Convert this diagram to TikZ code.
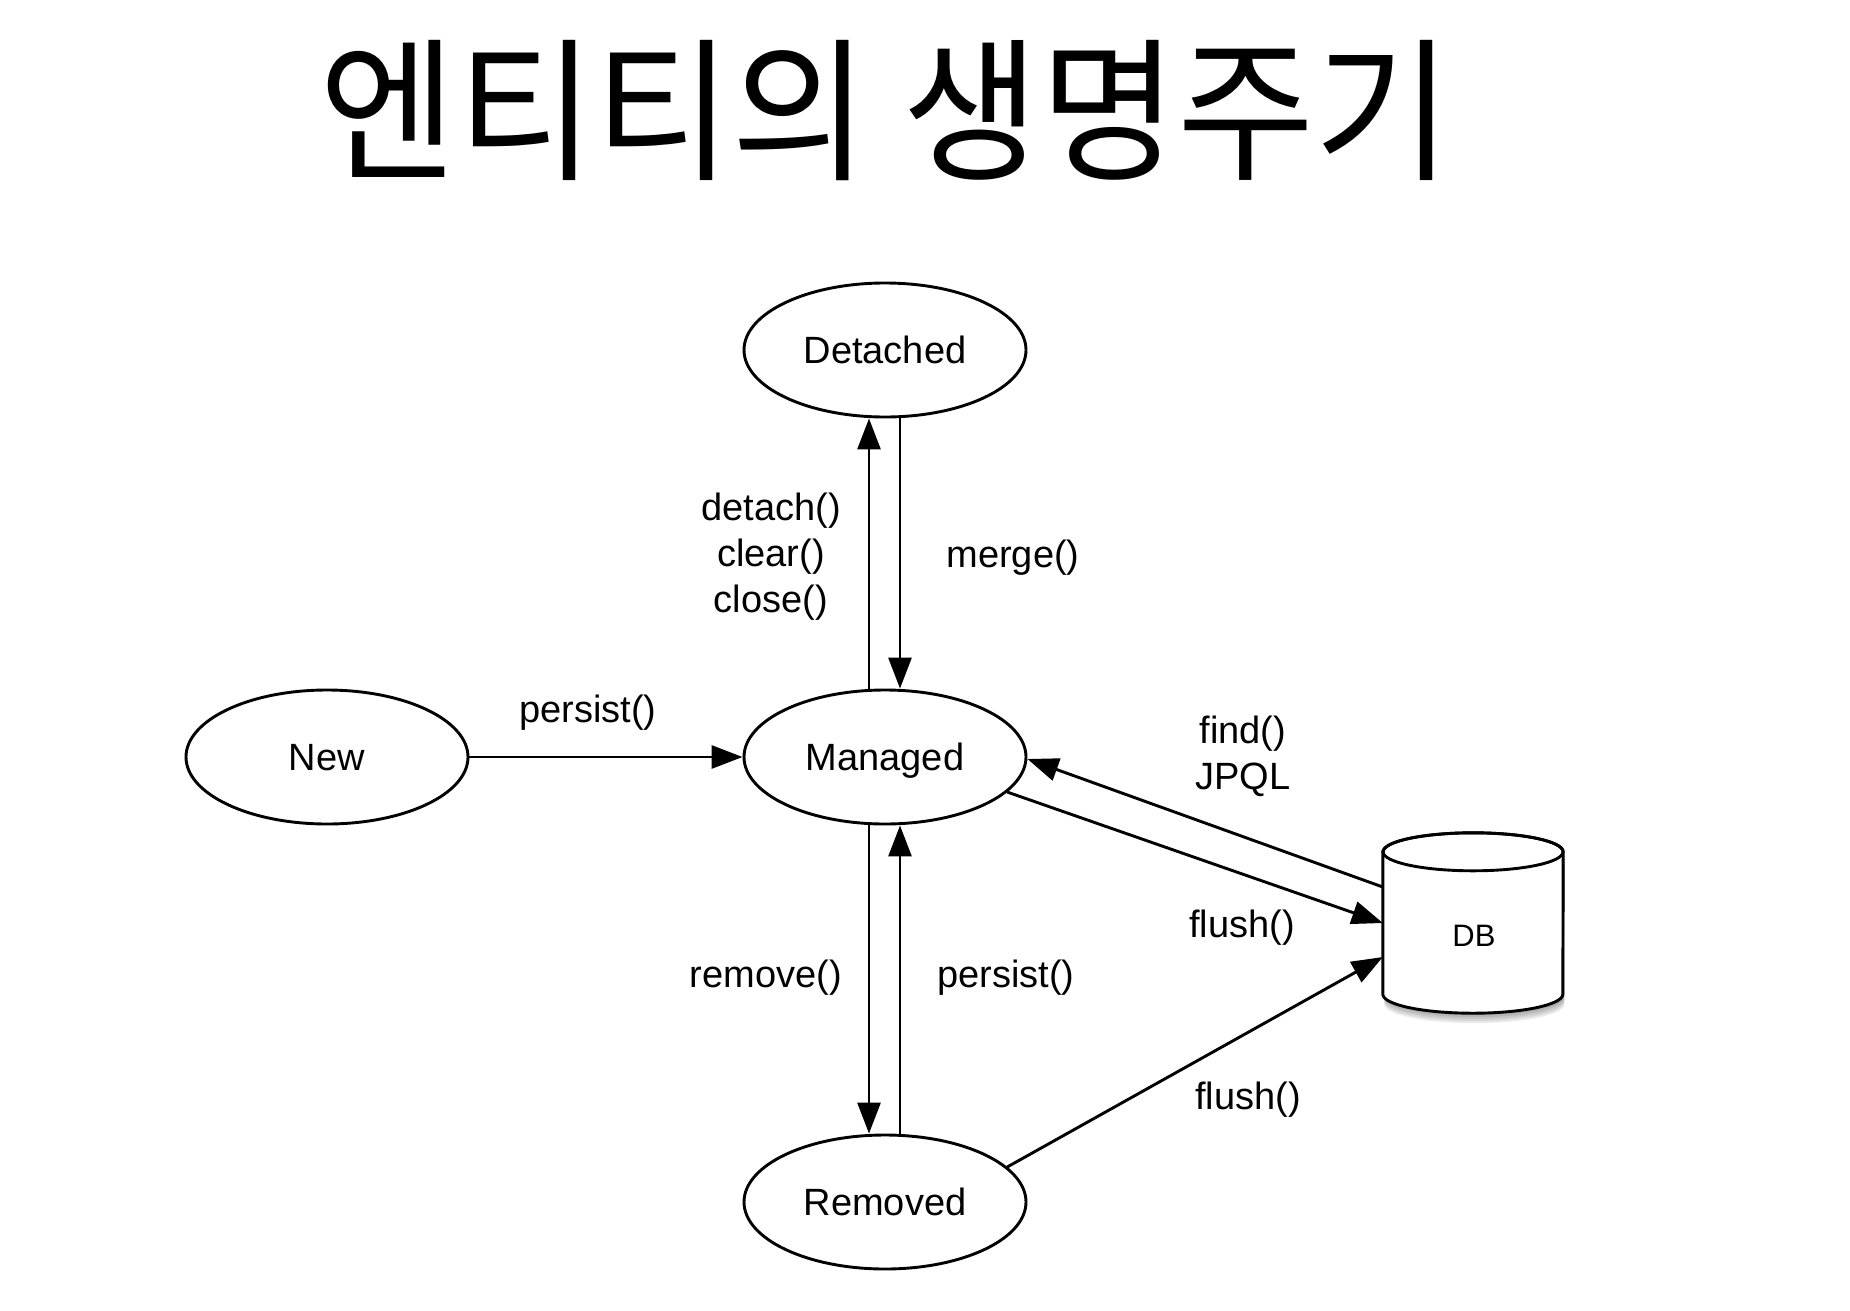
\documentclass[tikz,border=0pt]{standalone}
\usepackage{fontspec}
\setmainfont{Liberation Sans}
\newfontfamily\krfont{Noto Sans CJK KR}
\usetikzlibrary{shapes.geometric,arrows.meta,calc}
\begin{document}
\begin{tikzpicture}[x=1pt,y=-1pt,
  state/.style={ellipse,draw,line width=2.9pt,minimum width=282pt,minimum height=134pt,inner sep=0pt,text depth=0pt,font=\fontsize{38}{46}\selectfont},
  lbl/.style={font=\fontsize{38}{46}\selectfont,inner sep=0pt},
  arr/.style={line width=2.9pt,-{Triangle[length=31pt,width=23pt]}},
  ln/.style={line width=2.9pt}]
\useasboundingbox (0,0) rectangle (1850,1310);
\fill[white] (0,0) rectangle (1850,1310);
\node[font=\krfont\fontsize{155}{160}\selectfont,inner sep=0pt] (title) at (886,111) {\scalebox{0.963}[1]{엔티티의 생명주기}};
\node[state] (detached) at (885,350) {Detached};
\node[state] (managed) at (885,757) {Managed};
\node[state] (new) at (327,757) {New};
\node[state] (removed) at (885,1202) {Removed};
\node[minimum width=180pt,minimum height=142pt,inner sep=0pt] (db) at (1473,923) {};
\foreach \s in {2,4,6,8,10}{
  \fill[black,opacity=0.08] ([yshift=-\s pt,xshift=1.5pt]db.north west) -- ([yshift=-\s pt,xshift=1.5pt]db.south west) arc[start angle=180,end angle=360,x radius=90pt,y radius=19pt] -- ([yshift=-\s pt,xshift=1.5pt]db.north east) -- cycle;
}
\filldraw[ln,fill=white] (db.north west) -- (db.south west) arc[start angle=180,end angle=360,x radius=90pt,y radius=19pt] -- (db.north east) arc[start angle=0,end angle=180,x radius=90pt,y radius=19pt] -- cycle;
\draw[ln] (db.north) ellipse[x radius=90pt,y radius=19pt];
\node[font=\fontsize{31}{36}\selectfont,inner sep=0pt] (dbtext) at (1474,936) {DB};
\draw[arr] (new.east) -- (managed.west);
\draw[arr] ([xshift=-16pt]managed.north) -- ([xshift=-16pt]detached.south);
\draw[arr] ([xshift=15pt]detached.south) -- ([xshift=15pt]managed.north);
\draw[arr] ([xshift=-16pt]managed.south) -- ([xshift=-16pt]removed.north);
\draw[arr] ([xshift=15pt]removed.north) -- ([xshift=15pt]managed.south);
\draw[arr] ([yshift=36pt]db.west) -- ([yshift=-2pt]managed.east);
\draw[arr] (managed.-16) -- (db.west);
\draw[arr] (removed.16) -- ([yshift=-34pt]db.west);
\node[lbl,anchor=base] (lpersist) at (588,722) {persist()};
\node[lbl,align=center] (ldetach) at (771,557) {detach()\\clear()\\close()};
\node[lbl,anchor=base] (lmerge) at (1013,567) {merge()};
\node[lbl,align=center] (lfind) at (1243,756) {find()\\JPQL};
\node[lbl,anchor=base] (lflush1) at (1242,937) {flush()};
\node[lbl,anchor=base] (lremove) at (766,987) {remove()};
\node[lbl,anchor=base] (lpersist2) at (1006,987) {persist()};
\node[lbl,anchor=base] (lflush2) at (1248,1109) {flush()};
\end{tikzpicture}
\end{document}
